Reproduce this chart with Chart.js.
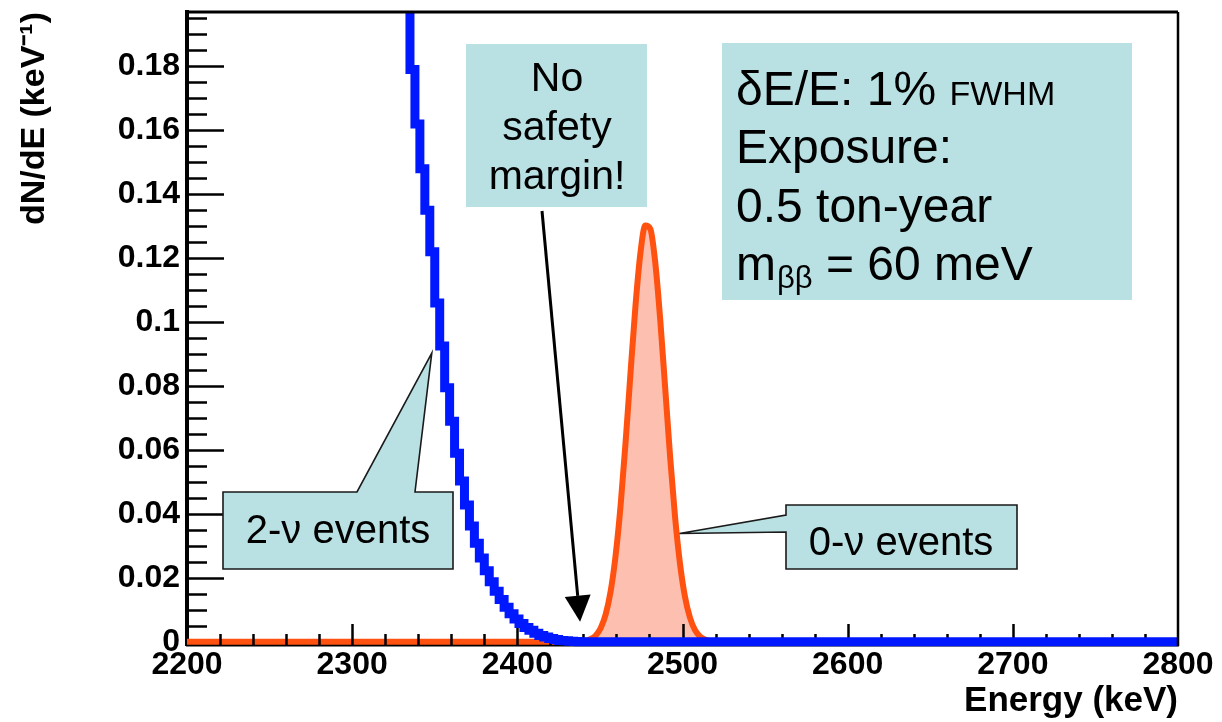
<!DOCTYPE html>
<html>
<head>
<meta charset="utf-8">
<title>Double-beta decay spectrum near the endpoint</title>
<script src="https://cdn.jsdelivr.net/npm/chart.js@4.4.1/dist/chart.umd.min.js"></script>
<style>
  html, body { margin: 0; padding: 0; background: #ffffff; }
  #wrap { width: 1222px; height: 722px; }
</style>
</head>
<body>
<div id="wrap"><canvas id="spectrum" width="1222" height="722"></canvas></div>
<script>
// ---- axis ranges and tick labels ----
const energyRange = [2200, 2800];            // keV
const densityRange = [-0.001, 0.197];        // keV^-1
const energyTickValues = [2200, 2300, 2400, 2500, 2600, 2700, 2800];
const energyTickLabels = ['2200', '2300', '2400', '2500', '2600', '2700', '2800'];
const densityTickValues = [0, 0.02, 0.04, 0.06, 0.08, 0.1, 0.12, 0.14, 0.16, 0.18];
const densityTickLabels = ['0', '0.02', '0.04', '0.06', '0.08', '0.1', '0.12', '0.14', '0.16', '0.18'];
const energyMinorStep = 20;
const densityMinorStep = 0.005;

// ---- histograms (3 keV bins, contents in keV^-1) ----
const binWidth = 3;

// 2-neutrino spectrum tail, bins starting at 2320 keV
const twoNuFirstEdge = 2320;
const twoNuContents = [
  0.265, 0.248, 0.232, 0.216, 0.199, 0.179, 0.162, 0.148, 0.135, 0.122,
  0.106, 0.0925, 0.0795, 0.0690, 0.0590, 0.0503, 0.0428, 0.0362, 0.0308, 0.0262,
  0.0222, 0.0188, 0.0158, 0.0132, 0.0108, 0.0088, 0.0071, 0.0057, 0.0045, 0.0036,
  0.0027, 0.0020, 0.0015, 0.0010, 0.0007, 0.0004, 0.0003, 0.0002, 0.0001, 0.00005
];

// 0-neutrino peak, bins starting at 2440 keV
const zeroNuFirstEdge = 2440;
const zeroNuContents = [
  0.0004, 0.0009, 0.0020, 0.0043, 0.0086, 0.0158, 0.0270, 0.0425, 0.0621, 0.0839,
  0.1049, 0.1215, 0.1302, 0.1292, 0.1187, 0.1009, 0.0795, 0.0579, 0.0390, 0.0244,
  0.0141, 0.0076, 0.0037, 0.0017, 0.0007, 0.0003
];

// ---- point lists ----
// 2-nu: step histogram, one point per bin low edge
const twoNuEnd = twoNuFirstEdge + twoNuContents.length * binWidth;
const twoNuPoints = twoNuContents.map((c, i) => ({ x: twoNuFirstEdge + i * binWidth, y: c }))
  .concat([{ x: twoNuEnd, y: 0 }, { x: energyRange[1], y: 0 }]);

// 0-nu: smooth curve through the bin centres
const zeroNuEnd = zeroNuFirstEdge + zeroNuContents.length * binWidth;
const zeroNuPoints = [{ x: energyRange[0], y: 0 }, { x: zeroNuFirstEdge - binWidth / 2, y: 0 }]
  .concat(zeroNuContents.map((c, i) => ({ x: zeroNuFirstEdge + (i + 0.5) * binWidth, y: c })))
  .concat([{ x: zeroNuEnd + binWidth / 2, y: 0 }, { x: energyRange[1], y: 0 }]);

const FONT = '"Liberation Sans", Arial, Helvetica, sans-serif';
const BOX_FILL = '#b9e0e3';

// ---- inner tick marks (ROOT style, drawn inside the frame) ----
function drawInnerTicks(chart) {
  const { ctx, chartArea: a, scales: { x, y } } = chart;
  ctx.save();
  ctx.strokeStyle = '#000';
  ctx.lineWidth = 2.5;
  ctx.beginPath();
  const nx = Math.round((energyRange[1] - energyRange[0]) / energyMinorStep);
  for (let i = 1; i < nx; i++) {
    const v = energyRange[0] + i * energyMinorStep;
    const px = Math.round(x.getPixelForValue(v)) + 0.5;
    const len = (v % 100 === 0) ? 21 : 11;
    ctx.moveTo(px, a.bottom);
    ctx.lineTo(px, a.bottom - len);
  }
  for (let i = 1; i <= 39; i++) {
    const v = i * densityMinorStep;
    if (v > densityRange[1]) break;
    const py = Math.round(y.getPixelForValue(v)) + 0.5;
    const len = (i % 4 === 0) ? 37 : 20;
    ctx.moveTo(a.left, py);
    ctx.lineTo(a.left + len, py);
  }
  ctx.stroke();
  ctx.restore();
}

const innerTicks = {
  id: 'innerTicks',
  afterDatasetDraw(chart, args) {
    if (args.index === 1) drawInnerTicks(chart);
  },
  afterDatasetsDraw(chart) {
    // top and right sides of the frame
    const { ctx, chartArea: a } = chart;
    ctx.save();
    ctx.strokeStyle = '#000';
    ctx.lineWidth = 3;
    ctx.beginPath();
    ctx.moveTo(a.left, a.top);
    ctx.lineTo(a.right, a.top);
    ctx.stroke();
    ctx.lineWidth = 2.5;
    ctx.beginPath();
    ctx.moveTo(a.right, a.top);
    ctx.lineTo(a.right, a.bottom + 1);
    ctx.stroke();
    ctx.restore();
  }
};

// ---- callout boxes and labels ----
function fillPolygon(ctx, pts, stroke) {
  ctx.beginPath();
  ctx.moveTo(pts[0][0], pts[0][1]);
  for (let i = 1; i < pts.length; i++) ctx.lineTo(pts[i][0], pts[i][1]);
  ctx.closePath();
  ctx.fillStyle = BOX_FILL;
  ctx.fill();
  if (stroke) {
    ctx.strokeStyle = '#1a1a1a';
    ctx.lineWidth = 1.6;
    ctx.lineJoin = 'miter';
    ctx.stroke();
  }
}

function drawArrow(ctx, x0, y0, x1, y1) {
  const ang = Math.atan2(y1 - y0, x1 - x0);
  const headLen = 26, headHalf = 13;
  const bx = x1 - headLen * Math.cos(ang);
  const by = y1 - headLen * Math.sin(ang);
  ctx.strokeStyle = '#000';
  ctx.lineWidth = 3;
  ctx.beginPath();
  ctx.moveTo(x0, y0);
  ctx.lineTo(bx, by);
  ctx.stroke();
  ctx.fillStyle = '#000';
  ctx.beginPath();
  ctx.moveTo(x1, y1);
  ctx.lineTo(bx + headHalf * Math.sin(ang), by - headHalf * Math.cos(ang));
  ctx.lineTo(bx - headHalf * Math.sin(ang), by + headHalf * Math.cos(ang));
  ctx.closePath();
  ctx.fill();
}

const callouts = {
  id: 'callouts',
  afterDraw(chart) {
    const { ctx, scales: { x, y } } = chart;
    ctx.save();

    // "No safety margin!" note with arrow to the gap between the spectra
    fillPolygon(ctx, [[466, 44], [647, 44], [647, 207], [466, 207]], false);
    ctx.fillStyle = '#000';
    ctx.font = '41px ' + FONT;
    ctx.textAlign = 'center';
    ctx.textBaseline = 'alphabetic';
    ctx.fillText('No', 557, 91);
    ctx.fillText('safety', 557, 140);
    ctx.fillText('margin!', 557, 189);
    drawArrow(ctx, 542, 211, x.getPixelForValue(2438), y.getPixelForValue(0.0063));

    // parameter box
    fillPolygon(ctx, [[722, 43], [1132, 43], [1132, 300], [722, 300]], false);
    ctx.fillStyle = '#000';
    ctx.textAlign = 'left';
    const tx = 736;
    ctx.font = '48px ' + FONT;
    ctx.fillText('\u03b4E/E: 1%', tx, 105);
    let w = ctx.measureText('\u03b4E/E: 1% ').width;
    ctx.font = '34px ' + FONT;
    ctx.fillText('FWHM', tx + w, 105);
    ctx.font = '48px ' + FONT;
    ctx.fillText('Exposure:', tx, 163);
    ctx.fillText('0.5 ton-year', tx, 222);
    ctx.fillText('m', tx, 280);
    w = ctx.measureText('m').width;
    ctx.font = '31px ' + FONT;
    ctx.fillText('\u03b2\u03b2', tx + w + 1, 288);
    const w2 = ctx.measureText('\u03b2\u03b2').width;
    ctx.font = '48px ' + FONT;
    ctx.fillText(' = 60 meV', tx + w + 1 + w2, 280);

    // "2-nu events" speech bubble pointing at the falling spectrum
    const t2x = x.getPixelForValue(2348.2), t2y = y.getPixelForValue(0.0903);
    fillPolygon(ctx, [[223, 492], [357, 492], [t2x, t2y], [415, 492], [453, 492], [453, 569], [223, 569]], true);
    ctx.fillStyle = '#000';
    ctx.textAlign = 'center';
    ctx.font = '40px ' + FONT;
    ctx.fillText('2-\u03bd events', 338, 543);

    // "0-nu events" speech bubble pointing at the peak
    const t0x = x.getPixelForValue(2498.2), t0y = y.getPixelForValue(0.0339);
    fillPolygon(ctx, [[786, 505], [1017, 505], [1017, 569], [786, 569], [786, 532], [t0x, t0y], [786, 515]], true);
    ctx.fillStyle = '#000';
    ctx.fillText('0-\u03bd events', 901, 555);

    ctx.restore();
  }
};

const tickFont = { family: FONT, size: 32, weight: 'bold' };

new Chart(document.getElementById('spectrum'), {
  type: 'line',
  data: {
    datasets: [
      {
        label: '2nu',
        data: twoNuPoints,
        stepped: true,
        borderColor: '#0018ff',
        borderWidth: 9,
        pointRadius: 0,
        fill: false,
        clip: { left: 0, top: 0, right: 0, bottom: 6 }
      },
      {
        label: '0nu',
        data: zeroNuPoints,
        cubicInterpolationMode: 'monotone',
        borderColor: '#ff5210',
        borderWidth: 6,
        pointRadius: 0,
        fill: 'origin',
        backgroundColor: 'rgba(251,128,96,0.5)',
        clip: { left: 0, top: 0, right: 0, bottom: 4 }
      }
    ]
  },
  options: {
    responsive: false,
    devicePixelRatio: 1,
    animation: false,
    events: [],
    layout: { padding: { top: 12, right: 44, bottom: 0, left: 0 } },
    plugins: { legend: { display: false }, tooltip: { enabled: false } },
    scales: {
      x: {
        type: 'linear',
        min: energyRange[0],
        max: energyRange[1],
        afterBuildTicks: s => { s.ticks = energyTickValues.map(v => ({ value: v })); },
        ticks: {
          autoSkip: false,
          maxRotation: 0,
          padding: 1,
          color: '#000',
          font: tickFont,
          callback: v => energyTickLabels[energyTickValues.indexOf(v)] ?? ''
        },
        grid: { drawOnChartArea: false, drawTicks: false },
        border: { display: true, color: '#000', width: 2.5 },
        title: {
          display: true,
          text: 'Energy (keV)',
          align: 'end',
          color: '#000',
          font: { family: FONT, size: 35, weight: 'bold' },
          padding: { top: 0, bottom: 0 }
        },
        afterFit: s => { s.height = 77; s.paddingLeft = 0; s.paddingRight = 0; }
      },
      y: {
        type: 'linear',
        min: densityRange[0],
        max: densityRange[1],
        afterBuildTicks: s => { s.ticks = densityTickValues.map(v => ({ value: v })); },
        ticks: {
          autoSkip: false,
          padding: 7,
          color: '#000',
          font: tickFont,
          callback: v => {
            const i = densityTickValues.findIndex(t => Math.abs(t - v) < 1e-9);
            return i >= 0 ? densityTickLabels[i] : '';
          }
        },
        grid: { drawOnChartArea: false, drawTicks: false },
        border: { display: true, color: '#000', width: 4 },
        title: {
          display: true,
          text: 'dN/dE (keV\u207b\u00b9)',
          align: 'end',
          color: '#000',
          font: { family: FONT, size: 34, weight: 'bold' },
          padding: { top: 14, bottom: 0 }
        },
        afterFit: s => { s.width = 187; s.paddingTop = 0; s.paddingBottom = 0; }
      }
    }
  },
  plugins: [innerTicks, callouts]
});
</script>
</body>
</html>
